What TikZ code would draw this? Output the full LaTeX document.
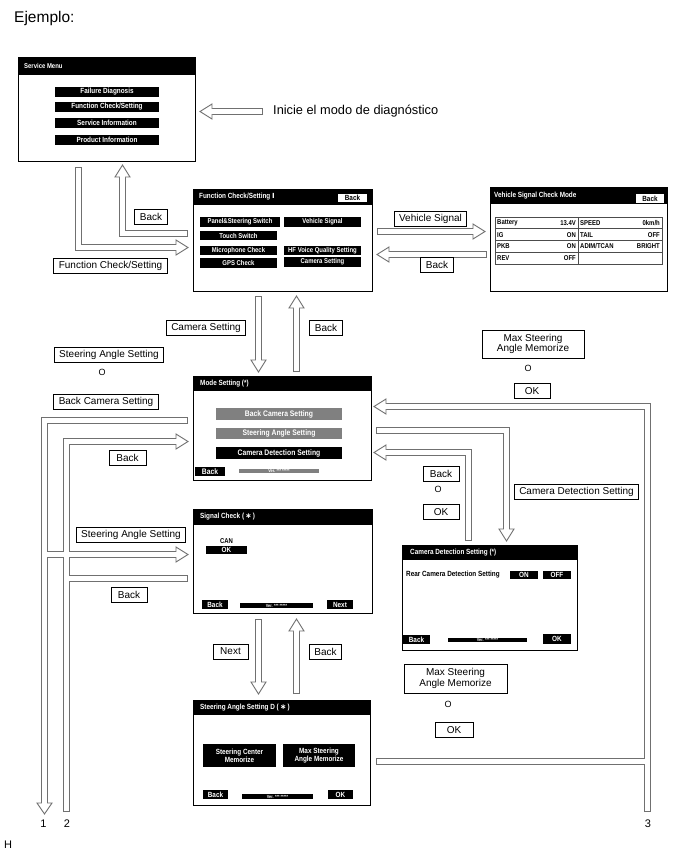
\documentclass[tikz,border=0pt]{standalone}
\usepackage{fontspec}
\setmainfont{Liberation Sans}
\newfontfamily\scrf[FakeStretch=0.85]{Liberation Sans}
\newfontfamily\djv{DejaVu Sans}
\usetikzlibrary{calc}
\definecolor{pg}{HTML}{707070}
\definecolor{bg}{HTML}{808080}
\newcommand\sfont{\scrf\bfseries\fontsize{7.5}{8}\selectfont}
\newcommand\sfonts{\scrf\bfseries\fontsize{7}{8}\selectfont}
\newcommand\vfont{\scrf\bfseries\fontsize{4.5}{5}\selectfont}
\newcommand\lfont{\fontsize{10}{11.5}\selectfont}
\newcommand\hd[2]{\draw[headst] ($(#1)!7.5pt!90:(#2)$) -- (#2) -- ($(#1)!7.5pt!-90:(#2)$) -- cycle;}
\tikzset{
  scr/.style={draw=black, line width=0.8pt, fill=white, inner sep=0},
  hdr/.style={fill=black, inner sep=0},
  ttl/.style={anchor=west, text=white, font=\sfont, inner sep=0},
  btn/.style={fill=black, text=white, font=\sfont, inner sep=0, align=center},
  gbtn/.style={btn, fill=bg},
  wbtn/.style={fill=white, text=black, font=\sfont, inner sep=0},
  ver/.style={fill=black, text=white, font=\vfont, inner sep=0},
  cell/.style={font=\sfonts, inner sep=0, text=black},
  lab/.style={draw=black, line width=0.9pt, fill=white, font=\lfont, minimum height=15pt, inner xsep=5pt, inner ysep=1pt, align=center},
  orr/.style={font=\fontsize{9}{10}\selectfont, inner sep=0},
  num/.style={font=\fontsize{11}{12}\selectfont, inner sep=0},
  pipeo/.style={draw=pg, line width=7pt, line join=miter},
  pipei/.style={draw=white, line width=5pt, line join=miter},
  cl/.style={shorten <=1pt},
  hh/.style={shorten >=-1.2pt},
  headst/.style={fill=white, draw=pg, line width=0.9pt, line join=miter}
}
\begin{document}
\begin{tikzpicture}[x=1pt,y=-1pt]
\useasboundingbox[fill=white] (0,0) rectangle (688,852);

\node[anchor=west, font=\fontsize{15.5}{17}\selectfont, inner sep=0] (title) at (14,18) {Ejemplo:};
\node[anchor=west, font=\fontsize{12.8}{15}\selectfont, inner sep=0] (start) at (273,111) {Inicie el modo de diagnóstico};

% ---------- Service Menu
\node[scr, minimum width=177pt, minimum height=104pt] (sm) at (106.5,109) {};
\node[hdr, minimum width=177pt, minimum height=18pt, anchor=north] (smh) at (sm.north) {};
\node[ttl, font=\scrf\bfseries\fontsize{7}{8}\selectfont] (smt) at (24,66) {Service Menu};
\node[btn, minimum width=104pt, minimum height=10pt] (sm1) at (107,92) {Failure Diagnosis};
\node[btn, minimum width=104pt, minimum height=10pt] (sm2) at (107,107) {Function Check/Setting};
\node[btn, minimum width=104pt, minimum height=10pt] (sm3) at (107,123) {Service Information};
\node[btn, minimum width=104pt, minimum height=10pt] (sm4) at (107,140) {Product Information};

% ---------- Function Check/Setting
\node[scr, minimum width=179pt, minimum height=102pt] (fc) at (282.5,240) {};
\node[hdr, minimum width=179pt, minimum height=16pt, anchor=north] (fch) at (fc.north) {};
\node[ttl] (fct) at (199,197) {Function Check/Setting {\djv\bfseries\fontsize{7}{8}\selectfont Ⅰ}};
\node[wbtn, minimum width=29pt, minimum height=8.5pt] (fcb) at (352.5,198) {Back};
\node[btn, font=\sfonts, minimum width=80pt, minimum height=9.5pt] (fc1) at (240,222) {Panel\&Steering Switch};
\node[btn, font=\sfonts, minimum width=77pt, minimum height=9.5pt] (fc2) at (322.5,222) {Vehicle Signal};
\node[btn, font=\sfonts, minimum width=77pt, minimum height=9.5pt] (fc3) at (238.5,235.5) {Touch Switch};
\node[btn, font=\sfonts, minimum width=77pt, minimum height=9.5pt] (fc4) at (238.5,250.5) {Microphone Check};
\node[btn, font=\sfonts, minimum width=77pt, minimum height=9.5pt] (fc5) at (322.5,250.5) {HF Voice Quality Setting};
\node[btn, font=\sfonts, minimum width=77pt, minimum height=9.5pt] (fc6) at (238.5,263) {GPS Check};
\node[btn, font=\sfonts, minimum width=77pt, minimum height=9.5pt] (fc7) at (322.5,262) {Camera Setting};

% ---------- Vehicle Signal Check Mode
\node[scr, minimum width=177pt, minimum height=104pt] (vs) at (578.5,239) {};
\node[hdr, minimum width=177pt, minimum height=17pt, anchor=north] (vsh) at (vs.north) {};
\node[ttl] (vst) at (494,196) {Vehicle Signal Check Mode};
\node[wbtn, minimum width=28pt, minimum height=8.5pt] (vsb) at (650,198.5) {Back};
\draw[black!70, line width=0.6pt] (495,217) rectangle (662,264);
\draw[black!70, line width=0.6pt] (578,217) -- (578,264)
  (495,228.75) -- (662,228.75) (495,240.5) -- (662,240.5) (495,252.25) -- (662,252.25);
\node[cell, anchor=west] (v1) at (497,222.9) {Battery};
\node[cell, anchor=east] (v2) at (576,222.9) {13.4V};
\node[cell, anchor=west] (v3) at (580,222.9) {SPEED};
\node[cell, anchor=east] (v4) at (660,222.9) {0km/h};
\node[cell, anchor=west] (v5) at (497,234.6) {IG};
\node[cell, anchor=east] (v6) at (576,234.6) {ON};
\node[cell, anchor=west] (v7) at (580,234.6) {TAIL};
\node[cell, anchor=east] (v8) at (660,234.6) {OFF};
\node[cell, anchor=west] (v9) at (497,246.4) {PKB};
\node[cell, anchor=east] (v10) at (576,246.4) {ON};
\node[cell, anchor=west] (v11) at (580,246.4) {ADIM/TCAN};
\node[cell, anchor=east] (v12) at (660,246.4) {BRIGHT};
\node[cell, anchor=west] (v13) at (497,258.1) {REV};
\node[cell, anchor=east] (v14) at (576,258.1) {OFF};

% ---------- Mode Setting
\node[scr, minimum width=178pt, minimum height=104pt] (ms) at (282,428) {};
\node[hdr, minimum width=178pt, minimum height=15pt, anchor=north] (msh) at (ms.north) {};
\node[ttl] (mst) at (200,383.5) {Mode Setting (*)};
\node[gbtn, font=\scrf\bfseries\fontsize{8}{9}\selectfont, minimum width=126pt, minimum height=12pt] (ms1) at (279,414) {Back Camera Setting};
\node[gbtn, font=\scrf\bfseries\fontsize{8}{9}\selectfont, minimum width=126pt, minimum height=11pt] (ms2) at (279,433.5) {Steering Angle Setting};
\node[btn, font=\scrf\bfseries\fontsize{8}{9}\selectfont, minimum width=126pt, minimum height=12pt] (ms3) at (279,453) {Camera Detection Setting};
\node[btn, font=\scrf\bfseries\fontsize{8}{9}\selectfont, minimum width=30pt, minimum height=9pt] (msb) at (210,471.5) {Back};
\node[ver, fill=bg, minimum width=80pt, minimum height=4pt] (msv) at (279,471) {Ver. *** *****};

% ---------- Signal Check
\node[scr, minimum width=179pt, minimum height=104pt] (sc) at (282.5,561) {};
\node[hdr, minimum width=179pt, minimum height=16pt, anchor=north] (sch) at (sc.north) {};
\node[ttl] (sct) at (200,517) {Signal Check (\,{\djv\bfseries ∗}\,)};
\node[cell] (scc) at (226.5,541.5) {CAN};
\node[btn, minimum width=41pt, minimum height=8pt] (sco) at (226.5,550) {OK};
\node[btn, minimum width=26pt, minimum height=9pt] (scb) at (215,604.5) {Back};
\node[ver, minimum width=73pt, minimum height=5pt] (scv) at (276.5,605.5) {Ver. *** *****};
\node[btn, minimum width=26pt, minimum height=9pt] (scn) at (340,604.5) {Next};

% ---------- Camera Detection Setting
\node[scr, minimum width=175pt, minimum height=105pt] (cd) at (489.5,597.5) {};
\node[hdr, minimum width=175pt, minimum height=15pt, anchor=north] (cdh) at (cd.north) {};
\node[ttl] (cdt) at (410,552.5) {Camera Detection Setting (*)};
\node[cell, font=\sfont, anchor=west] (cdr) at (406,575) {Rear Camera Detection Setting};
\node[btn, minimum width=28pt, minimum height=8pt] (cdon) at (524,575) {ON};
\node[btn, minimum width=28pt, minimum height=8pt] (cdoff) at (557,575) {OFF};
\node[btn, minimum width=27pt, minimum height=9pt] (cdb) at (416.5,639.5) {Back};
\node[ver, minimum width=79pt, minimum height=4pt] (cdv) at (487.5,640) {Ver. *** *****};
\node[btn, minimum width=28pt, minimum height=10pt] (cdok) at (557,639) {OK};

% ---------- Steering Angle Setting D
\node[scr, minimum width=177pt, minimum height=105pt] (sd) at (281.5,752.5) {};
\node[hdr, minimum width=177pt, minimum height=15pt, anchor=north] (sdh) at (sd.north) {};
\node[ttl] (sdt) at (200,707.5) {Steering Angle Setting D (\,{\djv\bfseries ∗}\,)};
\node[btn, minimum width=73pt, minimum height=23pt] (sd1) at (239.5,755.5) {Steering Center\\Memorize};
\node[btn, minimum width=72pt, minimum height=23pt] (sd2) at (319,755.5) {Max Steering\\Angle Memorize};
\node[btn, minimum width=25pt, minimum height=9pt] (sdb) at (215.5,794.5) {Back};
\node[ver, minimum width=71pt, minimum height=5pt] (sdv) at (277.5,796.5) {Ver. *** *****};
\node[btn, minimum width=25pt, minimum height=9pt] (sdok) at (340.5,794.5) {OK};

% ---------- connector points
\coordinate (S0) at (263,111.5); \coordinate (SB) at (212,111.5); \coordinate (ST) at (200,111.5);
\coordinate (A0) at (78.5,167);  \coordinate (A1) at (78.5,247.5);  \coordinate (AB) at (176,247.5); \coordinate (AT) at (188,247.5);
\coordinate (B0) at (188,233.5); \coordinate (B1) at (122.5,233.5); \coordinate (BB) at (122.5,177); \coordinate (BT) at (122.5,165);
\coordinate (C0) at (377,231.5); \coordinate (CB) at (473,231.5); \coordinate (CT) at (485,231.5);
\coordinate (D0) at (487,254.5); \coordinate (DB) at (389,254.5); \coordinate (DT) at (377,254.5);
\coordinate (E0) at (258.5,296); \coordinate (EB) at (258.5,360); \coordinate (ET) at (258.5,372);
\coordinate (F0) at (296.5,372); \coordinate (FB) at (296.5,308); \coordinate (FT) at (296.5,296);
\coordinate (P0) at (188,420.5); \coordinate (P1) at (44.5,420.5);  \coordinate (PB) at (44.5,803);  \coordinate (PT) at (44.5,814);
\coordinate (PJ) at (44.5,554.5);  \coordinate (PJB) at (176,554.5); \coordinate (PJT) at (188,554.5);
\coordinate (Q0) at (66.5,812);  \coordinate (Q1) at (66.5,441.5);  \coordinate (QB) at (176,441.5); \coordinate (QT) at (188,441.5);
\coordinate (QJ0) at (188,578.5); \coordinate (QJ) at (66.5,578.5);
\coordinate (R0) at (647.5,812); \coordinate (R1) at (647.5,406.5); \coordinate (RB) at (386,406.5); \coordinate (RT) at (374,406.5);
\coordinate (RJ0) at (376,761.5); \coordinate (RJ) at (647.5,761.5);
\coordinate (G0) at (376,430.5); \coordinate (G1) at (506.5,430.5); \coordinate (GB) at (506.5,529); \coordinate (GT) at (506.5,541);
\coordinate (H0) at (468.5,541); \coordinate (H1) at (468.5,452.5); \coordinate (HB) at (386,452.5); \coordinate (HT) at (374,452.5);
\coordinate (I0) at (258.5,619); \coordinate (IB) at (258.5,682); \coordinate (IT) at (258.5,694);
\coordinate (J0) at (296.5,694); \coordinate (JB) at (296.5,631); \coordinate (JT) at (296.5,619);

% gray layer
\draw[pipeo] (S0) -- (SB);
\draw[pipeo] (A0) -- (A1) -- (AB);
\draw[pipeo] (B0) -- (B1) -- (BB);
\draw[pipeo] (C0) -- (CB);
\draw[pipeo] (D0) -- (DB);
\draw[pipeo] (E0) -- (EB);
\draw[pipeo] (F0) -- (FB);
\draw[pipeo] (P0) -- (P1) -- (PB);
\draw[pipeo] (PJ) -- (PJB);
\draw[pipeo] (Q0) -- (Q1) -- (QB);
\draw[pipeo] (QJ0) -- (QJ);
\draw[pipeo] (R0) -- (R1) -- (RB);
\draw[pipeo] (RJ0) -- (RJ);
\draw[pipeo] (G0) -- (G1) -- (GB);
\draw[pipeo] (H0) -- (H1) -- (HB);
\draw[pipeo] (I0) -- (IB);
\draw[pipeo] (J0) -- (JB);
% heads
\hd{SB}{ST}
\hd{AB}{AT} \hd{BB}{BT} \hd{CB}{CT} \hd{DB}{DT} \hd{EB}{ET} \hd{FB}{FT}
\hd{PB}{PT} \hd{PJB}{PJT} \hd{QB}{QT} \hd{RB}{RT} \hd{GB}{GT} \hd{HB}{HT}
\hd{IB}{IT} \hd{JB}{JT}
% white layer
\draw[pipei, cl, hh] (S0) -- (SB);
\draw[pipei, cl, hh] (A0) -- (A1) -- (AB);
\draw[pipei, cl, hh] (B0) -- (B1) -- (BB);
\draw[pipei, cl, hh] (C0) -- (CB);
\draw[pipei, cl, hh] (D0) -- (DB);
\draw[pipei, cl, hh] (E0) -- (EB);
\draw[pipei, cl, hh] (F0) -- (FB);
\draw[pipei, cl, hh] (P0) -- (P1) -- (PB);
\draw[pipei, hh] (PJ) -- (PJB);
\draw[pipei, cl, hh] (Q0) -- (Q1) -- (QB);
\draw[pipei, cl] (QJ0) -- (QJ);
\draw[pipei, cl, hh] (R0) -- (R1) -- (RB);
\draw[pipei, cl] (RJ0) -- (RJ);
\draw[pipei, cl, hh] (G0) -- (G1) -- (GB);
\draw[pipei, cl, hh] (H0) -- (H1) -- (HB);
\draw[pipei, cl, hh] (I0) -- (IB);
\draw[pipei, cl, hh] (J0) -- (JB);

% ---------- labels
\node[lab] (l1) at (151,217) {Back};
\node[lab] (l2) at (110.5,265.5) {Function Check/Setting};
\node[lab] (l3) at (430.5,218.5) {Vehicle Signal};
\node[lab] (l4) at (437,264.5) {Back};
\node[lab] (l5) at (206,328) {Camera Setting};
\node[lab] (l6) at (326,328) {Back};
\node[lab] (l7) at (109,355) {Steering Angle Setting};
\node[orr] (o1) at (102,372) {O};
\node[lab] (l8) at (106,402) {Back Camera Setting};
\node[lab, minimum width=37pt] (l9) at (127.5,458) {Back};
\node[lab, minimum width=102pt, minimum height=28pt] (l10) at (533,344) {Max Steering\\[-1pt]Angle Memorize};
\node[orr] (o2) at (528,368) {O};
\node[lab, minimum width=36pt] (l11) at (532,391) {OK};
\node[lab, minimum width=36pt] (l12) at (441,474) {Back};
\node[orr] (o3) at (438,489) {O};
\node[lab, minimum width=36pt] (l13) at (441,512) {OK};
\node[lab] (l14) at (576.5,492) {Camera Detection Setting};
\node[lab] (l15) at (131,534.5) {Steering Angle Setting};
\node[lab, minimum width=36pt] (l16) at (129,595) {Back};
\node[lab, minimum width=35pt] (l17) at (230.5,651.5) {Next};
\node[lab] (l18) at (325.5,651.5) {Back};
\node[lab, minimum width=103pt, minimum height=29pt] (l19) at (455.5,678.5) {Max Steering\\[-1pt]Angle Memorize};
\node[orr] (o4) at (448,704) {O};
\node[lab, minimum width=38pt] (l20) at (454,730) {OK};

\node[num] (n1) at (43.5,823.5) {1};
\node[num] (n2) at (67,823.5) {2};
\node[num] (n3) at (648,823.5) {3};
\node[num] (nh) at (8,845) {H};
\end{tikzpicture}
\end{document}
